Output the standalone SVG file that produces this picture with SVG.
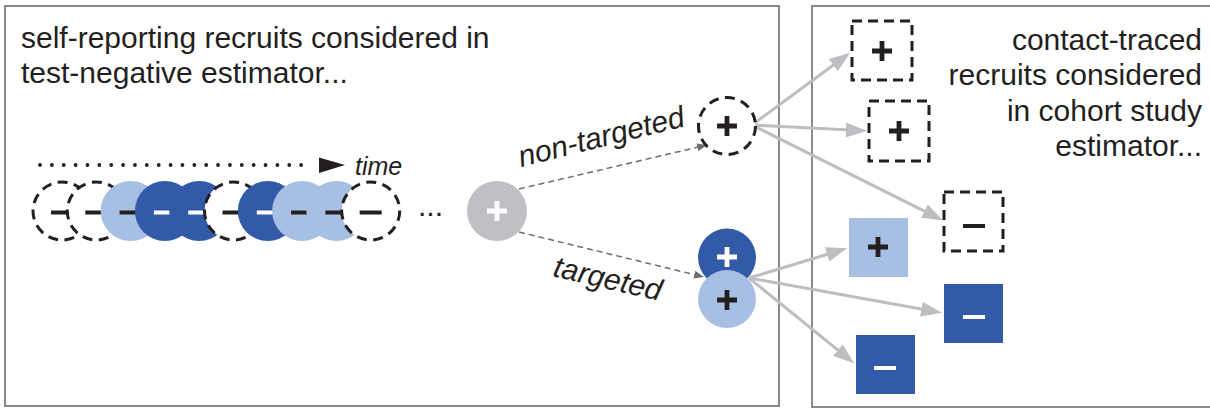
<svg xmlns="http://www.w3.org/2000/svg" xmlns:xlink="http://www.w3.org/1999/xlink" width="1210" height="410" viewBox="0 0 1210 410">
  <style>
    .panel { fill: #ffffff; stroke: #8a8a8a; stroke-width: 2; }
    .label { font-family: "Liberation Sans", Arial, sans-serif; font-size: 30px; fill: #231f20; }
    .ital { font-family: "Liberation Sans", Arial, sans-serif; font-style: italic; fill: #231f20; }
    .dashc { fill: #ffffff; stroke: #231f20; stroke-width: 3; stroke-dasharray: 10 6.5; }
    .dashb { fill: #ffffff; stroke: #231f20; stroke-width: 3; stroke-dasharray: 10 6; }
    .dark { fill: #325aa8; }
    .light { fill: #a7bfe3; }
    .grey { fill: #bfc0c3; }
    .sym-k { stroke: #231f20; fill: none; }
    .sym-w { stroke: #ffffff; fill: none; }
    .conn { stroke: #bdbec1; stroke-width: 3; fill: none; marker-end: url(#ah); }
    .conn-d { stroke: #6e6e70; stroke-width: 1.5; stroke-dasharray: 6 4; fill: none; marker-end: url(#ahs); }
  </style>
  <defs>
    <marker id="ah" markerUnits="userSpaceOnUse" viewBox="0 0 21 15" refX="4" refY="7.5" markerWidth="21" markerHeight="15" orient="auto">
      <path d="M0 0L21 7.5L0 15z" fill="#bdbec1"/>
    </marker>
    <marker id="ahs" markerUnits="userSpaceOnUse" viewBox="0 0 10 8" refX="3" refY="4" markerWidth="10" markerHeight="8" orient="auto">
      <path d="M0 0L10 4L0 8z" fill="#6e6e70"/>
    </marker>
    <path id="plus" d="M-10 0H10M0-10V10" stroke-width="4.8"/>
    <path id="minus" d="M-11 0H11" stroke-width="4"/>
  </defs>

  <!-- panels -->
  <rect class="panel" x="5" y="6" width="774" height="400"/>
  <rect class="panel" x="812" y="6" width="402" height="401"/>

  <text class="label" x="21" y="47.5">self-reporting recruits considered in</text>
  <text class="label" x="21" y="83">test-negative estimator...</text>

  <g class="label" text-anchor="end">
    <text x="1202" y="50">contact-traced</text>
    <text x="1202" y="85">recruits considered</text>
    <text x="1202" y="120.5">in cohort study</text>
    <text x="1202" y="156">estimator...</text>
  </g>

  <!-- time axis -->
  <g id="time-axis">
    <line x1="40" y1="165" x2="313" y2="165" stroke="#231f20" stroke-width="3.8" stroke-linecap="round" stroke-dasharray="0 11.87"/>
    <path d="M319 157.5L345 165L319 173z" fill="#231f20"/>
    <text class="ital" x="355" y="175" font-size="25">time</text>
  </g>

  <!-- sequence of self-reported tests, oldest on the left -->
  <g id="sequence">
    <circle class="dashc" cx="62" cy="211" r="29"/>
    <use xlink:href="#minus" href="#minus" class="sym-k" x="62" y="212.5"/>
    <circle class="dashc" cx="96.3" cy="211" r="29"/>
    <use xlink:href="#minus" href="#minus" class="sym-k" x="96.3" y="212.5"/>
    <circle class="light" cx="130.6" cy="211" r="30"/>
    <use xlink:href="#minus" href="#minus" class="sym-k" x="130.6" y="212.5"/>
    <circle class="dark" cx="164.9" cy="211" r="30"/>
    <use xlink:href="#minus" href="#minus" class="sym-w" x="164.9" y="212.5"/>
    <circle class="dark" cx="199.2" cy="211" r="30"/>
    <use xlink:href="#minus" href="#minus" class="sym-w" x="199.2" y="212.5"/>
    <circle class="dashc" cx="233.5" cy="211" r="29"/>
    <use xlink:href="#minus" href="#minus" class="sym-k" x="233.5" y="212.5"/>
    <circle class="dark" cx="267.8" cy="211" r="30"/>
    <use xlink:href="#minus" href="#minus" class="sym-w" x="267.8" y="212.5"/>
    <circle class="light" cx="302.1" cy="211" r="30"/>
    <use xlink:href="#minus" href="#minus" class="sym-k" x="302.1" y="212.5"/>
    <circle class="light" cx="336.4" cy="211" r="30"/>
    <use xlink:href="#minus" href="#minus" class="sym-k" x="336.4" y="212.5"/>
    <circle class="dashc" cx="370.7" cy="211" r="29"/>
    <use xlink:href="#minus" href="#minus" class="sym-k" x="370.7" y="212.5"/>
    <text class="label" x="418" y="216" font-size="28">...</text>
  </g>

  <!-- connectors -->
  <g id="connectors">
    <line class="conn-d" x1="519" y1="189" x2="700.2" y2="146.6"/>
    <line class="conn-d" x1="519" y1="232" x2="697.2" y2="275.3"/>
    <line class="conn" x1="752" y1="125" x2="836.5" y2="62.8"/>
    <line class="conn" x1="752" y1="125" x2="850" y2="130.1"/>
    <line class="conn" x1="752" y1="125" x2="927.9" y2="212.9"/>
    <line class="conn" x1="749" y1="278" x2="830.8" y2="253.2"/>
    <line class="conn" x1="749" y1="278" x2="925.3" y2="309.8"/>
    <line class="conn" x1="749" y1="278" x2="841" y2="352.6"/>
    <text class="ital" font-size="30" transform="translate(521 167) rotate(-14)">non-targeted</text>
    <text class="ital" font-size="30" transform="translate(552 276) rotate(13)">targeted</text>
  </g>

  <!-- index case -->
  <g id="index-case">
    <circle class="grey" cx="497" cy="211" r="30"/>
    <use xlink:href="#plus" href="#plus" class="sym-w" x="497" y="211" stroke-width="4.5"/>
  </g>

  <!-- recruits -->
  <g id="recruit-nontargeted">
    <circle class="dashc" cx="727" cy="126" r="28.5"/>
    <use xlink:href="#plus" href="#plus" class="sym-k" x="727" y="126"/>
  </g>
  <g id="recruit-targeted">
    <circle class="dark" cx="727" cy="257.5" r="29"/>
    <use xlink:href="#plus" href="#plus" class="sym-w" x="727" y="257"/>
    <circle class="light" cx="727" cy="299" r="29"/>
    <use xlink:href="#plus" href="#plus" class="sym-k" x="727" y="300"/>
  </g>

  <!-- contacts -->
  <g id="contact-1">
    <rect class="dashb" x="852" y="21" width="60" height="59"/>
    <use xlink:href="#plus" href="#plus" class="sym-k" x="882" y="51"/>
  </g>
  <g id="contact-2">
    <rect class="dashb" x="869" y="101" width="60" height="60"/>
    <use xlink:href="#plus" href="#plus" class="sym-k" x="899" y="131"/>
  </g>
  <g id="contact-3">
    <rect class="dashb" x="944" y="192" width="59" height="59"/>
    <use xlink:href="#minus" href="#minus" class="sym-k" x="974" y="226"/>
  </g>
  <g id="contact-4">
    <rect class="light" x="849" y="218" width="59" height="59"/>
    <use xlink:href="#plus" href="#plus" class="sym-k" x="878" y="247"/>
  </g>
  <g id="contact-5">
    <rect class="dark" x="944" y="284" width="59" height="59"/>
    <use xlink:href="#minus" href="#minus" class="sym-w" x="974" y="317"/>
  </g>
  <g id="contact-6">
    <rect class="dark" x="856" y="335" width="59" height="59"/>
    <use xlink:href="#minus" href="#minus" class="sym-w" x="885" y="368"/>
  </g>
</svg>
